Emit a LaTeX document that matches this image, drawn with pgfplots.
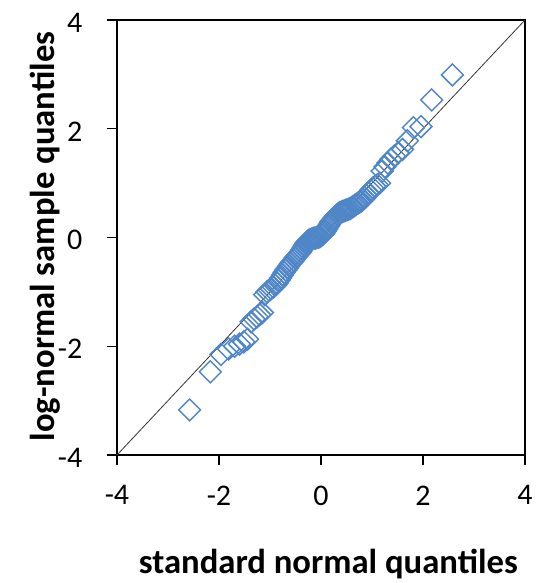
\documentclass[border=0pt]{standalone}
\usepackage{fontspec}
\setmainfont{Carlito}
\usepackage{pgfplots}
\usepackage{pgfplotstable}
\pgfplotsset{compat=1.18}
\definecolor{qblue}{RGB}{79,134,199}

% theoretical normal quantiles vs. sample quantiles (n = 100)
\pgfplotstableread{
x y
-2.576 -3.17
-2.170 -2.47
-1.960 -2.15
-1.812 -2.05
-1.695 -2.00
-1.598 -1.96
-1.514 -1.92
-1.440 -1.87
-1.372 -1.55
-1.311 -1.50
-1.254 -1.46
-1.200 -1.42
-1.150 -1.38
-1.103 -1.05
-1.058 -1.00
-1.015 -0.97
-0.974 -0.94
-0.935 -0.91
-0.896 -0.88
-0.860 -0.84
-0.824 -0.79
-0.789 -0.74
-0.755 -0.69
-0.722 -0.64
-0.690 -0.60
-0.659 -0.56
-0.628 -0.52
-0.598 -0.48
-0.568 -0.45
-0.539 -0.42
-0.510 -0.38
-0.482 -0.35
-0.454 -0.32
-0.426 -0.29
-0.399 -0.26
-0.372 -0.22
-0.345 -0.18
-0.319 -0.14
-0.292 -0.10
-0.266 -0.07
-0.240 -0.05
-0.215 -0.04
-0.189 -0.03
-0.164 -0.02
-0.138 -0.01
-0.113 -0.01
-0.088 0.00
-0.063 0.00
-0.038 0.01
-0.013 0.02
0.013 0.04
0.038 0.06
0.063 0.09
0.088 0.12
0.113 0.16
0.138 0.20
0.164 0.24
0.189 0.28
0.215 0.31
0.240 0.34
0.266 0.37
0.292 0.40
0.319 0.42
0.345 0.44
0.372 0.46
0.399 0.47
0.426 0.48
0.454 0.49
0.482 0.50
0.510 0.51
0.539 0.52
0.568 0.53
0.598 0.55
0.628 0.57
0.659 0.59
0.690 0.61
0.722 0.63
0.755 0.65
0.789 0.67
0.824 0.70
0.860 0.73
0.896 0.77
0.935 0.82
0.974 0.87
1.015 0.91
1.058 0.94
1.103 0.97
1.150 1.00
1.200 1.22
1.254 1.30
1.311 1.37
1.372 1.44
1.440 1.50
1.514 1.56
1.598 1.62
1.695 1.78
1.812 2.02
1.960 2.04
2.170 2.53
2.576 2.99
}\qq

\begin{document}
\begin{tikzpicture}
\begin{axis}[
  scale only axis,
  width=306pt, height=326.25pt,
  xmin=-4, xmax=4, ymin=-4, ymax=4,
  xtick={-4,-2,0,2,4}, ytick={-4,-2,0,2,4},
  xticklabels={-4,-2,0,2,4}, yticklabels={-4,-2,0,2,4},
  tick pos=left, tick align=outside,
  major tick length=7.5pt,
  axis line style={line width=0.9pt},
  tick style={line width=0.9pt, black},
  ticklabel style={font=\fontsize{22.5}{27}\selectfont},
  xticklabel style={yshift=-12pt},
  yticklabel style={xshift=-15pt, yshift=-2pt},
  xlabel={standard normal quantiles},
  ylabel={log-normal sample quantiles},
  x label style={font=\bfseries\fontsize{26}{31}\selectfont,
    at={(axis description cs:0.518,-0.273)}, anchor=base},
  y label style={font=\bfseries\fontsize{26}{31}\selectfont,
    at={(axis description cs:-0.152,0.502)}, anchor=base, rotate=0},
]
\addplot[color=black!80, line width=0.6pt] coordinates {(-4,-4) (4,4)};
\addplot[only marks, mark=square, mark size=5.8pt,
  mark options={rotate=45, draw=qblue, line width=1.1pt, fill=none}]
  table[x=x, y=y] {\qq};
\end{axis}
\pgfresetboundingbox
\path[use as bounding box] (-87.75pt,-96pt) rectangle (321pt,341.25pt);
\end{tikzpicture}
\end{document}
